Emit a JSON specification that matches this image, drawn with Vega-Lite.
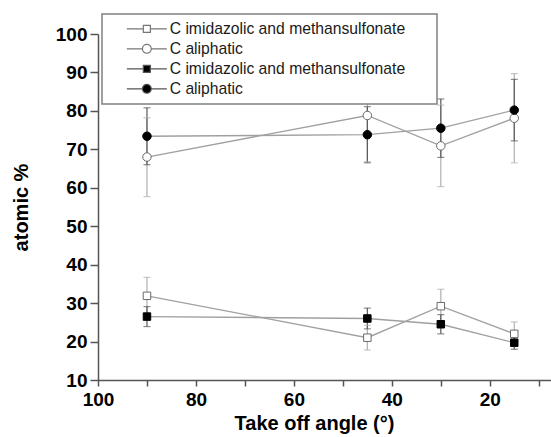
{
  "$schema": "https://vega.github.io/schema/vega-lite/v6.json",
  "width": 453,
  "height": 346,
  "autosize": "none",
  "padding": {"left": 98, "top": 34, "right": 0, "bottom": 57},
  "config": {
    "view": {"stroke": null},
    "font": "Liberation Sans",
    "legend": {"strokeWidth": 1.5}
  },
  "data": {
    "values": [
      {"angle": 90, "value": 31.9, "lo": 27.1, "hi": 36.7, "component": "imidazolic", "group": "A", "series": "C imidazolic and methansulfonate (1)"},
      {"angle": 45, "value": 21.0, "lo": 17.8, "hi": 24.2, "component": "imidazolic", "group": "A", "series": "C imidazolic and methansulfonate (1)"},
      {"angle": 30, "value": 29.2, "lo": 24.9, "hi": 33.6, "component": "imidazolic", "group": "A", "series": "C imidazolic and methansulfonate (1)"},
      {"angle": 15, "value": 22.0, "lo": 18.9, "hi": 25.1, "component": "imidazolic", "group": "A", "series": "C imidazolic and methansulfonate (1)"},
      {"angle": 90, "value": 68.0, "lo": 57.7, "hi": 78.2, "component": "aliphatic", "group": "A", "series": "C aliphatic (1)"},
      {"angle": 45, "value": 78.8, "lo": 66.8, "hi": 90.8, "component": "aliphatic", "group": "A", "series": "C aliphatic (1)"},
      {"angle": 30, "value": 70.9, "lo": 60.3, "hi": 81.5, "component": "aliphatic", "group": "A", "series": "C aliphatic (1)"},
      {"angle": 15, "value": 78.1, "lo": 66.5, "hi": 89.7, "component": "aliphatic", "group": "A", "series": "C aliphatic (1)"},
      {"angle": 90, "value": 26.5, "lo": 23.9, "hi": 29.1, "component": "imidazolic", "group": "B", "series": "C imidazolic and methansulfonate (2)"},
      {"angle": 45, "value": 26.0, "lo": 23.3, "hi": 28.7, "component": "imidazolic", "group": "B", "series": "C imidazolic and methansulfonate (2)"},
      {"angle": 30, "value": 24.5, "lo": 22.0, "hi": 27.0, "component": "imidazolic", "group": "B", "series": "C imidazolic and methansulfonate (2)"},
      {"angle": 15, "value": 19.7, "lo": 18.0, "hi": 21.4, "component": "imidazolic", "group": "B", "series": "C imidazolic and methansulfonate (2)"},
      {"angle": 90, "value": 73.4, "lo": 66.0, "hi": 80.8, "component": "aliphatic", "group": "B", "series": "C aliphatic (2)"},
      {"angle": 45, "value": 73.8, "lo": 66.5, "hi": 81.1, "component": "aliphatic", "group": "B", "series": "C aliphatic (2)"},
      {"angle": 30, "value": 75.5, "lo": 67.9, "hi": 83.1, "component": "aliphatic", "group": "B", "series": "C aliphatic (2)"},
      {"angle": 15, "value": 80.2, "lo": 72.2, "hi": 88.2, "component": "aliphatic", "group": "B", "series": "C aliphatic (2)"}
    ]
  },
  "encoding": {
    "x": {
      "field": "angle",
      "type": "quantitative",
      "scale": {"domain": [7.5, 100], "reverse": true, "nice": false, "zero": false},
      "axis": {
        "values": [100, 90, 80, 70, 60, 50, 40, 30, 20, 10],
        "labelExpr": "datum.value % 20 === 0 ? datum.label : ''",
        "title": "Take off angle (°)",
        "grid": false,
        "domainColor": "#555555",
        "domainWidth": 1.5,
        "tickColor": "#555555",
        "tickWidth": 1.5,
        "tickSize": 6,
        "labelFont": "Liberation Sans",
        "labelFontWeight": "bold",
        "labelFontSize": 19,
        "labelColor": "black",
        "labelPadding": 4,
        "labelOverlap": false,
        "labelFlush": false,
        "titleFont": "Liberation Sans",
        "titleFontSize": 20,
        "titleFontWeight": "bold",
        "titleColor": "black",
        "titlePadding": 4,
        "titleX": 216
      }
    },
    "y": {
      "field": "value",
      "type": "quantitative",
      "title": "atomic %",
      "scale": {"domain": [10, 100], "nice": false, "zero": false},
      "axis": {
        "values": [10, 20, 30, 40, 50, 60, 70, 80, 90, 100],
        "grid": false,
        "domainColor": "#555555",
        "domainWidth": 1.5,
        "tickColor": "#555555",
        "tickWidth": 1.5,
        "tickSize": 8,
        "labelFont": "Liberation Sans",
        "labelFontWeight": "bold",
        "labelFontSize": 19,
        "labelColor": "black",
        "labelPadding": 3,
        "labelOverlap": false,
        "labelFlush": false,
        "titleFont": "Liberation Sans",
        "titleFontSize": 20,
        "titleFontWeight": "bold",
        "titleColor": "black",
        "titlePadding": 24
      }
    }
  },
  "layer": [
    {
      "mark": {"type": "rule", "strokeWidth": 1.2},
      "encoding": {
        "y": {"field": "lo", "type": "quantitative", "title": "atomic %"},
        "y2": {"field": "hi"},
        "color": {"condition": {"test": "datum.group === 'B'", "value": "#5a5a5a"}, "value": "#b0b0b0"}
      }
    },
    {
      "mark": {"type": "tick", "orient": "horizontal", "size": 7, "thickness": 1.2},
      "encoding": {
        "y": {"field": "lo", "type": "quantitative", "title": "atomic %"},
        "color": {"condition": {"test": "datum.group === 'B'", "value": "#5a5a5a"}, "value": "#b0b0b0"}
      }
    },
    {
      "mark": {"type": "tick", "orient": "horizontal", "size": 7, "thickness": 1.2},
      "encoding": {
        "y": {"field": "hi", "type": "quantitative", "title": "atomic %"},
        "color": {"condition": {"test": "datum.group === 'B'", "value": "#5a5a5a"}, "value": "#b0b0b0"}
      }
    },
    {
      "mark": {"type": "line", "color": "#a0a0a0", "strokeWidth": 1.3},
      "encoding": {
        "detail": {"field": "series", "type": "nominal"}
      }
    },
    {
      "mark": {"type": "point", "filled": true, "opacity": 0, "size": 64, "strokeWidth": 1},
      "encoding": {
        "shape": {
          "field": "series",
          "type": "nominal",
          "scale": {
            "domain": ["C imidazolic and methansulfonate (1)", "C aliphatic (1)", "C imidazolic and methansulfonate (2)", "C aliphatic (2)"],
            "range": [
              "M-5,0H-0.875M0.875,0H5M-0.875,-0.875H0.875V0.875H-0.875Z",
              "M-5,0H-1.1M1.1,0H5M-1.1,0A1.1,1.1,0,1,0,1.1,0A1.1,1.1,0,1,0,-1.1,0Z",
              "M-5,0H-0.875M0.875,0H5M-0.875,-0.875H0.875V0.875H-0.875Z",
              "M-5,0H-1.1M1.1,0H5M-1.1,0A1.1,1.1,0,1,0,1.1,0A1.1,1.1,0,1,0,-1.1,0Z"
            ]
          },
          "legend": {
            "orient": "none", "legendX": 4, "legendY": -20, "title": null,
            "padding": 7, "rowPadding": 3, "symbolOffset": 30, "labelOffset": 15,
            "labelFont": "Liberation Sans", "labelFontSize": 15.7, "labelColor": "#1a1a1a", "labelLimit": 500,
            "labelExpr": "slice(datum.label, 0, -4) + '\u2800\u2800'",
            "strokeColor": "#808080", "fillColor": "white",
            "symbolSize": 64, "symbolStrokeWidth": 1.2, "symbolOpacity": 1
          }
        },
        "fill": {
          "field": "series",
          "type": "nominal",
          "scale": {
            "domain": ["C imidazolic and methansulfonate (1)", "C aliphatic (1)", "C imidazolic and methansulfonate (2)", "C aliphatic (2)"],
            "range": ["white", "white", "black", "black"]
          },
          "legend": {
            "orient": "none", "legendX": 4, "legendY": -20, "title": null,
            "padding": 7, "rowPadding": 3, "symbolOffset": 30, "labelOffset": 15,
            "labelFont": "Liberation Sans", "labelFontSize": 15.7, "labelColor": "#1a1a1a", "labelLimit": 500,
            "labelExpr": "slice(datum.label, 0, -4) + '\u2800\u2800'",
            "strokeColor": "#808080", "fillColor": "white",
            "symbolSize": 64, "symbolStrokeWidth": 1.2, "symbolOpacity": 1
          }
        },
        "stroke": {
          "field": "series",
          "type": "nominal",
          "scale": {
            "domain": ["C imidazolic and methansulfonate (1)", "C aliphatic (1)", "C imidazolic and methansulfonate (2)", "C aliphatic (2)"],
            "range": ["#777777", "#777777", "#555555", "#555555"]
          },
          "legend": {
            "orient": "none", "legendX": 4, "legendY": -20, "title": null,
            "padding": 7, "rowPadding": 3, "symbolOffset": 30, "labelOffset": 15,
            "labelFont": "Liberation Sans", "labelFontSize": 15.7, "labelColor": "#1a1a1a", "labelLimit": 500,
            "labelExpr": "slice(datum.label, 0, -4) + '\u2800\u2800'",
            "strokeColor": "#808080", "fillColor": "white",
            "symbolSize": 64, "symbolStrokeWidth": 1.2, "symbolOpacity": 1
          }
        }
      }
    },
    {
      "transform": [{"filter": "datum.component === 'imidazolic'"}],
      "mark": {"type": "point", "shape": "square", "size": 56, "filled": true, "strokeWidth": 1, "opacity": 1},
      "encoding": {
        "fill": {"condition": {"test": "datum.group === 'B'", "value": "black"}, "value": "white"},
        "stroke": {"condition": {"test": "datum.group === 'B'", "value": "black"}, "value": "#6a6a6a"}
      }
    },
    {
      "transform": [{"filter": "datum.component === 'aliphatic'"}],
      "mark": {"type": "point", "shape": "circle", "size": 72, "filled": true, "strokeWidth": 1, "opacity": 1},
      "encoding": {
        "fill": {"condition": {"test": "datum.group === 'B'", "value": "black"}, "value": "white"},
        "stroke": {"condition": {"test": "datum.group === 'B'", "value": "black"}, "value": "#6a6a6a"}
      }
    }
  ]
}
